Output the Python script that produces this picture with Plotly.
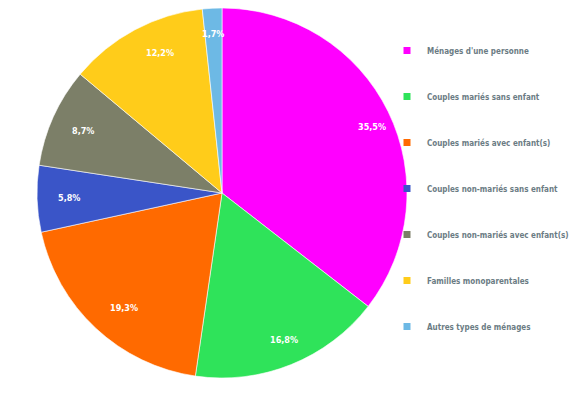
import math
import plotly.graph_objects as go

labels = ["Ménages d'une personne", "Couples mariés sans enfant", "Couples mariés avec enfant(s)",
          "Couples non-mariés sans enfant", "Couples non-mariés avec enfant(s)",
          "Familles monoparentales", "Autres types de ménages"]
values = [35.5, 16.8, 19.3, 5.8, 8.7, 12.2, 1.7]
value_text = ["35,5%", "16,8%", "19,3%", "5,8%", "8,7%", "12,2%", "1,7%"]
colors = ["#FF00FF", "#2FE35A", "#FF6A00", "#3A55C8", "#7C7F68", "#FFCC1A", "#6DB9E5"]

W, H = 580, 398
cx, cy, R = 214, 185, 185
FONT = "DejaVu Sans Condensed, sans-serif"

fig = go.Figure()
fig.add_trace(go.Pie(
    labels=labels, values=values, sort=False, direction="clockwise", rotation=0,
    marker=dict(colors=colors, line=dict(color="white", width=0.6)),
    textinfo="none", hoverinfo="label+percent", showlegend=False,
    domain=dict(x=[(cx - R) / W, (cx + R) / W], y=[(H - cy - R) / H, (H - cy + R) / H]),
))

# legend via dummy traces for spacing
for lab, col in zip(labels, colors):
    fig.add_trace(go.Scatter(x=[None], y=[None], mode="markers", name=lab,
                             marker=dict(symbol="square", size=7, color=col),
                             legendgroup=lab, showlegend=True))

total = sum(values)
cum = 0
for v, t in zip(values, value_text):
    mid = (cum + v / 2) / total * 2 * math.pi
    cum += v
    r = 0.9 * R
    px = cx + r * math.sin(mid)
    py = cy - r * math.cos(mid)
    fig.add_annotation(x=px / W, y=1 - py / H, xref="paper", yref="paper", text=t,
                       showarrow=False, font=dict(color="white", size=9, family=FONT, weight="bold"))

fig.update_layout(
    width=W, height=H, margin=dict(l=0, r=0, t=0, b=0, autoexpand=False),
    paper_bgcolor="white", plot_bgcolor="white",
    xaxis=dict(visible=False), yaxis=dict(visible=False),
    legend=dict(x=379 / W, y=1 - 28 / H, xanchor="left", yanchor="top", tracegroupgap=27,
                font=dict(size=8, color="#6B7C84", family=FONT, weight="bold"),
                itemwidth=30, bgcolor="rgba(0,0,0,0)"),
)
fig.write_html("out.html")
